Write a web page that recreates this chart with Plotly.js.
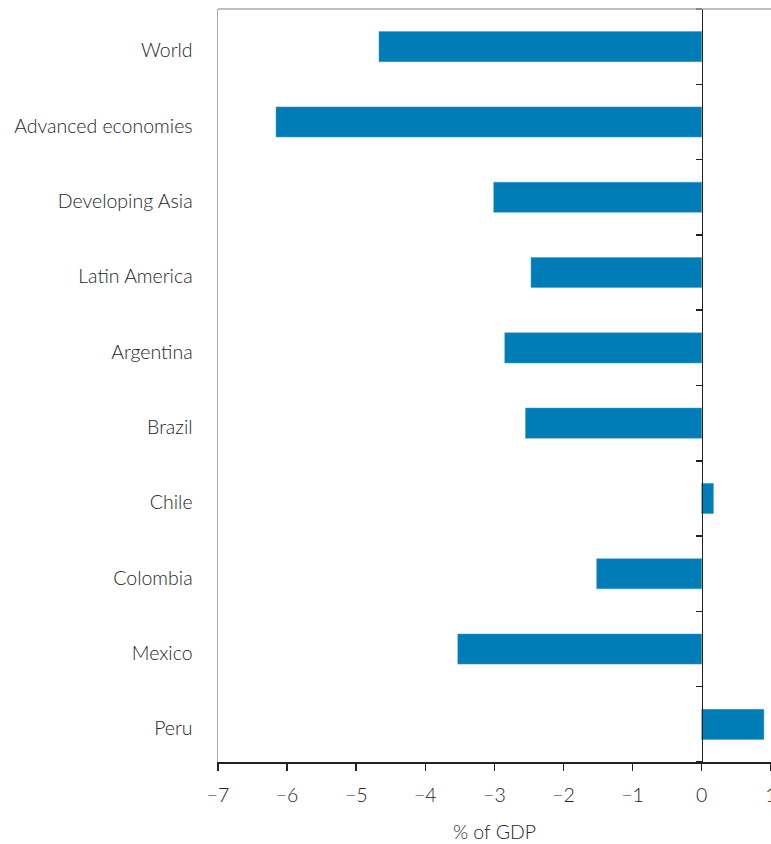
<!DOCTYPE html>
<html>
<head>
<meta charset="utf-8">
<script src="https://cdn.plot.ly/plotly-3.0.1.min.js"></script>
<style>html,body{margin:0;padding:0;background:#fff;}#chart{width:771px;height:844px;}</style>
</head>
<body>
<div id="chart"></div>
<script>
const categories = ["World", "Advanced economies", "Developing Asia", "Latin America", "Argentina", "Brazil", "Chile", "Colombia", "Mexico", "Peru"];
const values = [-4.67, -6.16, -3.01, -2.47, -2.85, -2.55, 0.17, -1.52, -3.53, 0.90];
const xTickVals = [-7, -6, -5, -4, -3, -2, -1, 0, 1];
const xTickText = ["\u22127", "\u22126", "\u22125", "\u22124", "\u22123", "\u22122", "\u22121", "0", "1"];
const boundaryTicks = [-0.5, 0.5, 1.5, 2.5, 3.5, 4.5, 5.5, 6.5, 7.5, 8.5, 9.5];

const font = "Lato, 'Open Sans', sans-serif";
const xMin = -7, xMax = 1;
const txt = {family: font, size: 19.5, color: "#262626", weight: 300};

const traces = [
  {
    type: "bar",
    orientation: "h",
    x: values,
    y: categories,
    width: 0.4,
    marker: {color: "#007DB6", line: {color: "#3a9bc9", width: 0.5}},
    hoverinfo: "x+y",
    showlegend: false
  },
  {
    type: "scatter",
    mode: "markers",
    x: [],
    y: [],
    yaxis: "y2",
    showlegend: false,
    hoverinfo: "skip"
  }
];

const layout = {
  width: 771,
  height: 844,
  margin: {l: 218, r: 0, t: 9, b: 82},
  paper_bgcolor: "#ffffff",
  plot_bgcolor: "#ffffff",
  font: txt,
  bargap: 0.6,
  xaxis: {
    range: [xMin, xMax + 0.003],
    tickvals: xTickVals,
    ticktext: xTickText,
    ticks: "outside",
    ticklen: 7,
    tickwidth: 1.5,
    tickcolor: "#222",
    showline: true,
    linecolor: "#222",
    linewidth: 1.5,
    showgrid: false,
    zeroline: false,
    ticklabelstandoff: 8,
    ticklabeloverflow: "allow",
    tickfont: txt,
    title: {text: "% of GDP", font: txt, standoff: 20},
    fixedrange: true
  },
  yaxis: {
    type: "category",
    categoryorder: "array",
    categoryarray: categories,
    range: [9.5, -0.5],
    showline: true,
    linecolor: "#aaaaaa",
    linewidth: 1.5,
    ticks: "",
    showgrid: false,
    zeroline: false,
    ticklabelstandoff: 20,
    ticklabelshift: -4,
    tickfont: txt,
    fixedrange: true
  },
  yaxis2: {
    overlaying: "y",
    anchor: "free",
    position: (0 - xMin) / (xMax - xMin + 0.003),
    side: "left",
    range: [9.5, -0.5],
    tickvals: boundaryTicks,
    showticklabels: false,
    ticks: "outside",
    ticklen: 6,
    tickwidth: 1.5,
    tickcolor: "#222",
    showline: true,
    linecolor: "#222",
    linewidth: 1.5,
    showgrid: false,
    zeroline: false,
    fixedrange: true
  },
  shapes: [
    {type: "line", xref: "paper", yref: "paper", x0: 0, x1: 1, y0: 1, y1: 1,
     line: {color: "#aaaaaa", width: 1.5}}
  ]
};

Plotly.newPlot("chart", traces, layout, {displayModeBar: false, staticPlot: true});
</script>
</body>
</html>
